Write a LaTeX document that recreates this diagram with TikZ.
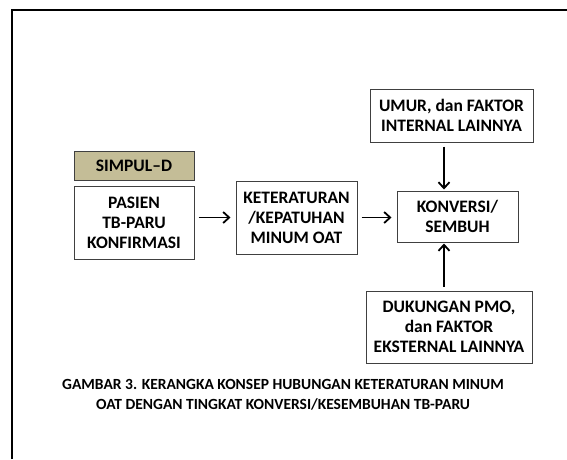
\documentclass[tikz,border=0pt]{standalone}
\usepackage{fontspec}
\setmainfont{Carlito}
\usetikzlibrary{arrows.meta}
\definecolor{simpultan}{RGB}{196,189,151}
\begin{document}
\begin{tikzpicture}
    [
        x=1pt, y=-1pt,
        ->,>={Straight Barb[length=6pt,width=11pt]},
        box/.style={rectangle, draw=black!75, line width=1pt, inner sep=0pt,
            align=center, font=\fontsize{17.5}{20}\selectfont\bfseries},
        edge/.style={line width=1.8pt, shorten <=4pt, shorten >=5pt},
    ]
    \useasboundingbox (0,0) rectangle (567,459);

    % frame
    \draw[-, line width=2pt] (12,459) -- (12,10) -- (567,10);

    % left column
    \node (simpul) at (134,165.5) [box, fill=simpultan, minimum width=120, minimum height=29] {SIMPUL--D};
    \node (pasien) at (134,222.5) [box, minimum width=120, minimum height=73] {PASIEN\\TB-PARU\\KONFIRMASI};

    % middle and right
    \node (keteraturan) at (296.5,217.5) [box, minimum width=121, minimum height=73] {KETERATURAN\\/KEPATUHAN\\MINUM OAT};
    \node (konversi)    at (457.5,216.5) [box, minimum width=121, minimum height=51] {KONVERSI/\\SEMBUH};
    \node (umur)        at (451.5,115.5) [box, minimum width=163, minimum height=53] {UMUR, dan FAKTOR\\INTERNAL LAINNYA};
    \node (dukungan)    at (449,327)     [box, minimum width=166, minimum height=72] {DUKUNGAN PMO,\\dan FAKTOR\\EKSTERNAL LAINNYA};

    \path
    (pasien.east |- keteraturan.west)  edge [edge]                (keteraturan.west)
    (keteraturan.east)                 edge [edge]                (keteraturan.east -| konversi.west)
    ([xshift=-7.5pt]umur.south)        edge [edge, shorten >=1pt] ([xshift=-13.5pt]konversi.north)
    ([xshift=-5pt]dukungan.north)      edge [edge, shorten >=1pt] ([xshift=-13.5pt]konversi.south);

    % caption
    \node (caption) at (283,395) [align=center, font=\fontsize{15.5}{20}\selectfont\bfseries]
        {GAMBAR 3. KERANGKA KONSEP HUBUNGAN KETERATURAN MINUM\\OAT DENGAN TINGKAT KONVERSI/KESEMBUHAN TB-PARU};

\end{tikzpicture}
\end{document}
